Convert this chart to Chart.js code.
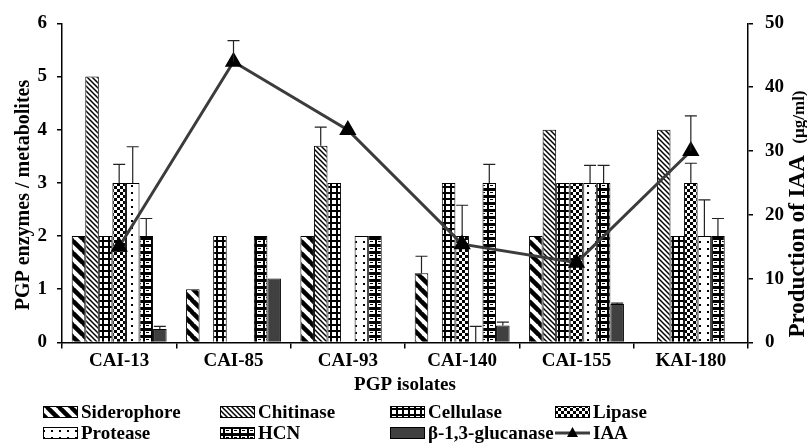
<!DOCTYPE html>
<html>
<head>
<meta charset="utf-8">
<script src="https://cdn.jsdelivr.net/npm/chart.js@4.4.1/dist/chart.umd.min.js"></script>
<style>
  html, body { margin: 0; padding: 0; background: #fff; }
  canvas { display: block; }
</style>
</head>
<body>
<canvas id="pgp" width="807" height="445"></canvas>
<script>
// values
const isolates = ['CAI-13', 'CAI-85', 'CAI-93', 'CAI-140', 'CAI-155', 'KAI-180'];
const siderophore = [2, 1, 2, 1.3, 2, 0];
const chitinase   = [5, 0, 3.7, 0, 4, 4];
const cellulase   = [2, 2, 3, 3, 3, 2];
const lipase      = [3, 0, 0, 2, 3, 3];
const protease    = [3, 0, 2, 0, 3, 2];
const hcn         = [2, 2, 2, 3, 3, 2];
const glucanase   = [0.25, 1.2, 0, 0.32, 0.72, 0];
const iaa         = [15, 44, 33.3, 15.4, 12.5, 30];

// error bar sizes (+ only, as drawn)
const siderophoreErr = [0, 0, 0, 0.32, 0, 0];
const chitinaseErr   = [0, 0, 0.35, 0, 0, 0];
const cellulaseErr   = [0, 0, 0, 0, 0, 0];
const lipaseErr      = [0.35, 0, 0, 0.58, 0, 0.37];
const proteaseErr    = [0.68, 0, 0, 0.3, 0.33, 0.68];
const hcnErr         = [0.33, 0, 0, 0.35, 0.33, 0.33];
const glucanaseErr   = [0.05, 0, 0, 0.06, 0.02, 0];
const iaaErr         = [0, 3.3, 0, 0, 0, 5.5];

const leftTicks = [0, 1, 2, 3, 4, 5, 6];
const rightTicks = [0, 10, 20, 30, 40, 50];

const FONT = '"Liberation Serif", "Times New Roman", serif';

// --- fill patterns ---
function tile(w, h, draw) {
  const c = document.createElement('canvas');
  c.width = w; c.height = h;
  const g = c.getContext('2d');
  g.fillStyle = '#fff';
  g.fillRect(0, 0, w, h);
  draw(g, w, h);
  return document.createElement('canvas').getContext('2d').createPattern(c, 'repeat');
}
function backslash(g, s, lw) {
  g.strokeStyle = '#000';
  g.lineWidth = lw;
  for (const k of [-s, 0, s]) {
    g.beginPath();
    g.moveTo(k - 1, -1);
    g.lineTo(k + s + 1, s + 1);
    g.stroke();
  }
}
const patSiderophore = tile(12, 12, (g, s) => backslash(g, s, 4.5));
const patChitinase = tile(5, 5, (g, s) => backslash(g, s, 1.5));
const patCellulase = tile(6, 6, g => {
  g.fillStyle = '#000'; g.fillRect(0, 0, 6, 6);
  g.fillStyle = '#fff'; g.fillRect(2, 2, 4, 4);
});
const patLipase = tile(6, 6, g => {
  g.fillStyle = '#000';
  g.fillRect(0, 0, 3, 3); g.fillRect(3, 3, 3, 3);
});
const patProtease = tile(8, 7, g => {
  g.fillStyle = '#000'; g.fillRect(3, 3, 2, 2);
});
const patHcn = tile(8, 7, g => {
  g.fillStyle = '#000'; g.fillRect(0, 0, 8, 7);
  g.fillStyle = '#fff'; g.fillRect(1, 2, 6, 4);
  g.fillStyle = '#000'; g.fillRect(2, 3, 3, 1);
});
const glucColor = '#404040';

function barSet(label, data, errs, fill) {
  return {
    type: 'bar', label, data, errs,
    backgroundColor: fill, borderColor: '#000', borderWidth: 1,
    yAxisID: 'y', order: 1
  };
}

const datasets = [
  barSet('Siderophore', siderophore, siderophoreErr, patSiderophore),
  barSet('Chitinase', chitinase, chitinaseErr, patChitinase),
  barSet('Cellulase', cellulase, cellulaseErr, patCellulase),
  barSet('Lipase', lipase, lipaseErr, patLipase),
  barSet('Protease', protease, proteaseErr, patProtease),
  barSet('HCN', hcn, hcnErr, patHcn),
  barSet('\u03b2-1,3-glucanase', glucanase, glucanaseErr, glucColor),
  {
    type: 'line', label: 'IAA', data: iaa, errs: iaaErr,
    borderColor: '#3c3c3c', borderWidth: 3,
    pointStyle: 'triangle', pointRadius: 7,
    pointBackgroundColor: '#000', pointBorderColor: '#000',
    yAxisID: 'y1', order: 0, tension: 0
  }
];

// error bars drawn from each element through the scales
const errorBars = {
  id: 'errorBars',
  afterDatasetsDraw(chart) {
    const ctx = chart.ctx;
    ctx.save();
    ctx.strokeStyle = '#222';
    ctx.lineWidth = 1.2;
    chart.data.datasets.forEach((ds, di) => {
      const meta = chart.getDatasetMeta(di);
      const scale = chart.scales[ds.yAxisID];
      ds.data.forEach((v, i) => {
        const e = ds.errs[i];
        if (!e) return;
        const el = meta.data[i];
        const top = scale.getPixelForValue(v + e);
        const y0 = scale.getPixelForValue(v);
        ctx.beginPath();
        ctx.moveTo(el.x, y0);
        ctx.lineTo(el.x, top);
        ctx.moveTo(el.x - 6, top);
        ctx.lineTo(el.x + 6, top);
        ctx.stroke();
      });
    });
    ctx.restore();
  }
};

// axis titles + legend laid out in fixed columns
const titlesAndLegend = {
  id: 'titlesAndLegend',
  afterDraw(chart) {
    const ctx = chart.ctx;
    ctx.save();
    ctx.fillStyle = '#000';
    ctx.textBaseline = 'alphabetic';

    ctx.save();
    ctx.font = 'bold 20px ' + FONT;
    ctx.textAlign = 'center';
    ctx.translate(29, 195);
    ctx.rotate(-Math.PI / 2);
    ctx.fillText('PGP enzymes / metabolites', 0, 0);
    ctx.restore();

    ctx.save();
    const p1 = 'Production of IAA  ', p2 = '(\u00b5g/ml)';
    ctx.font = 'bold 23px ' + FONT;
    const w1 = ctx.measureText(p1).width;
    ctx.font = 'bold 17px ' + FONT;
    const w2 = ctx.measureText(p2).width;
    ctx.translate(804, 214);
    ctx.rotate(-Math.PI / 2);
    ctx.textAlign = 'left';
    ctx.font = 'bold 23px ' + FONT;
    ctx.fillText(p1, -(w1 + w2) / 2, 0);
    ctx.font = 'bold 17px ' + FONT;
    ctx.fillText(p2, -(w1 + w2) / 2 + w1, 0);
    ctx.restore();

    const cols = [43, 220, 390, 555];
    const rows = [412, 433];
    ctx.font = 'bold 19px ' + FONT;
    ctx.textAlign = 'left';
    ctx.textBaseline = 'middle';
    chart.data.datasets.forEach((ds, i) => {
      const x = cols[i % 4], y = rows[Math.floor(i / 4)];
      if (ds.type === 'line') {
        ctx.strokeStyle = ds.borderColor;
        ctx.lineWidth = 3;
        ctx.beginPath();
        ctx.moveTo(x, y); ctx.lineTo(x + 35, y);
        ctx.stroke();
        ctx.fillStyle = '#000';
        ctx.beginPath();
        ctx.moveTo(x + 17.5, y - 6);
        ctx.lineTo(x + 23, y + 4);
        ctx.lineTo(x + 12, y + 4);
        ctx.closePath();
        ctx.fill();
      } else {
        ctx.fillStyle = ds.backgroundColor;
        ctx.fillRect(x, y - 6, 35, 12);
        ctx.strokeStyle = '#000';
        ctx.lineWidth = 1;
        ctx.strokeRect(x + 0.5, y - 5.5, 34, 11);
      }
      ctx.fillStyle = '#000';
      ctx.fillText(ds.label, x + 38, y + 1);
    });
    ctx.restore();
  }
};

const tickFont = { family: FONT, size: 19, weight: 'bold' };

new Chart(document.getElementById('pgp'), {
  data: { labels: isolates, datasets },
  plugins: [errorBars, titlesAndLegend],
  options: {
    responsive: false,
    animation: false,
    devicePixelRatio: 1,
    layout: { padding: { top: 20, left: 0, right: 0, bottom: 45 } },
    datasets: { bar: { categoryPercentage: 0.83, barPercentage: 1.0 } },
    plugins: { legend: { display: false }, tooltip: { enabled: false } },
    scales: {
      x: {
        grid: { drawOnChartArea: false, offset: true, tickLength: 6, color: '#000', lineWidth: 1.5 },
        border: { color: '#000', width: 1.5 },
        ticks: { font: tickFont, color: '#000', padding: 1 },
        title: { display: true, text: 'PGP isolates', font: tickFont, color: '#000', padding: { top: 0, bottom: 4 } }
      },
      y: {
        position: 'left', min: 0, max: 6,
        afterBuildTicks: s => { s.ticks = leftTicks.map(v => ({ value: v })); },
        afterFit: s => { s.width = 62; },
        grid: { drawOnChartArea: false, tickLength: 5, color: '#000', lineWidth: 1.5 },
        border: { color: '#000', width: 1.5 },
        ticks: { font: tickFont, color: '#000', padding: 10 }
      },
      y1: {
        position: 'right', min: 0, max: 50,
        afterBuildTicks: s => { s.ticks = rightTicks.map(v => ({ value: v })); },
        afterFit: s => { s.width = 59; },
        grid: { drawOnChartArea: false, tickLength: 5, color: '#000', lineWidth: 1.5 },
        border: { color: '#000', width: 1.5 },
        ticks: { font: tickFont, color: '#000', padding: 12 }
      }
    }
  }
});
</script>
</body>
</html>
